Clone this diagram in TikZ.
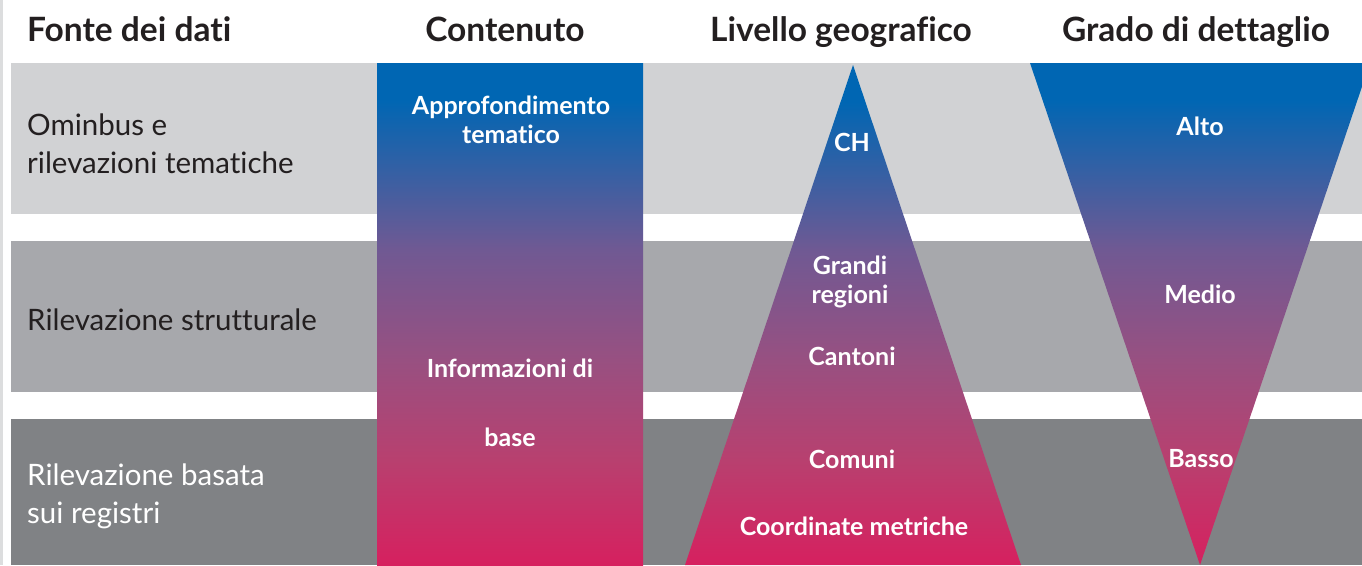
\documentclass[tikz,border=0pt]{standalone}
\usepackage{fontspec}
\setmainfont{Lato}[Ligatures=NoCommon]
\definecolor{ink}{HTML}{231F20}
\definecolor{bandlight}{HTML}{D1D2D4}
\definecolor{bandmid}{HTML}{A7A8AC}
\definecolor{banddark}{HTML}{808285}
\definecolor{pageedge}{HTML}{DCDDDE}
\definecolor{isblue}{HTML}{0066B3}
\definecolor{ispurple}{HTML}{705993}
\definecolor{ismauve}{HTML}{985081}
\definecolor{isrose}{HTML}{B8406F}
\definecolor{ispink}{HTML}{D6205F}
\pgfdeclareverticalshading{detail}{100bp}{color(0bp)=(ispink); color(25bp)=(ispink); color(35.5bp)=(isrose); color(45.4bp)=(ismauve); color(56.4bp)=(ispurple); color(71.3bp)=(isblue); color(100bp)=(isblue)}
\begin{document}
\begin{tikzpicture}[x=1pt,y=-1pt,
    head/.style={font=\bfseries\fontsize{33.5}{37}\selectfont,text=ink,anchor=base,inner sep=0pt},
    src/.style={font=\fontsize{29.5}{37.5}\selectfont,anchor=base west,align=left,inner sep=0pt},
    lbl/.style={font=\bfseries\fontsize{25}{29}\selectfont,text=white,anchor=base,align=center,inner sep=0pt}]
    \useasboundingbox (0,0) rectangle (1362,565);
    \fill[pageedge] (0,0) rectangle (3,565);
    \fill[bandlight] (11,63) rectangle (1362,214);
    \fill[bandmid] (11,241) rectangle (1362,392);
    \fill[banddark] (11,419) rectangle (1362,565);
    \shade[shading=detail] (377,63) rectangle (643,565);
    \shade[shading=detail] (853,65) -- (1021,565) -- (685,565) -- cycle;
    \shade[shading=detail] (1030,63) -- (1370,63) -- (1200,565) -- cycle;

    \node[head,anchor=base west] (fonte) at (27,41) {Fonte dei dati};
    \node[head] (contenuto) at (505,41) {Contenuto};
    \node[head] (livello) at (841,41) {Livello geografico};
    \node[head] (grado) at (1196,41) {Grado di dettaglio};

    \node[src,text=ink] (omnibus) at (27,173) {Ominbus e\\rilevazioni tematiche};
    \node[src,text=ink] (strutturale) at (27,330) {Rilevazione strutturale};
    \node[src,text=white] (registri) at (27,523) {Rilevazione basata\\sui registri};

    \node[lbl] (approf) at (511,143) {Approfondimento\\tematico};
    \node[lbl] (informazioni) at (510,446) {Informazioni di\\[40pt]base};
    \node[lbl] (ch) at (852,151) {CH};
    \node[lbl] (grandi) at (850,303) {Grandi\\regioni};
    \node[lbl] (cantoni) at (852,365) {Cantoni};
    \node[lbl] (comuni) at (852,468) {Comuni};
    \node[lbl] (coordinate) at (854,535) {Coordinate metriche};
    \node[lbl] (alto) at (1200,135) {Alto};
    \node[lbl] (medio) at (1200,303) {Medio};
    \node[lbl] (basso) at (1201,467) {Basso};
\end{tikzpicture}
\end{document}
